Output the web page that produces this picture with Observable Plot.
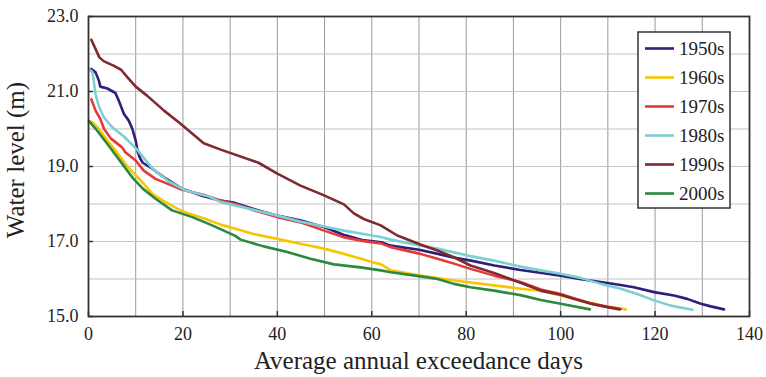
<!DOCTYPE html>
<html><head><meta charset="utf-8">
<script src="https://cdn.jsdelivr.net/npm/d3@7"></script>
<script src="https://cdn.jsdelivr.net/npm/@observablehq/plot@0.6"></script>
<style>
body{margin:0;background:#fff;}
#chart{position:relative;width:766px;height:377px;}
#chart svg, #chart svg text{font-family:"Liberation Serif","Times New Roman","DejaVu Serif",serif !important;}
</style>
</head><body><div id="chart"></div>
<script>
const decades = ["1950s","1960s","1970s","1980s","1990s","2000s"];
const colors = ["#2e1f7c","#f7c600","#e43a3a","#7ccfd2","#7f2a2e","#2b8a3e"];

const days1950 = [0.6,1.5,2.2,2.5,4,5.7,6.5,7.5,8.5,9.3,10,10.4,11,11.5,13.5,16,17,19.8,24,28,31,35,40,45,50,54,58,62,64,70,74,77,81,86,91.5,96,100,104,108.5,112.7,115.5,119.8,124,126.8,129.7,131.8,134.6];
const level1950 = [21.6,21.51,21.29,21.13,21.08,20.96,20.73,20.4,20.23,20.0,19.69,19.4,19.2,19.1,18.94,18.71,18.63,18.41,18.22,18.09,18.03,17.87,17.69,17.56,17.38,17.18,17.04,16.98,16.89,16.78,16.67,16.58,16.49,16.36,16.24,16.16,16.09,16.0,15.92,15.84,15.78,15.65,15.56,15.47,15.34,15.27,15.19];

const days1960 = [0.1,0.8,2.2,4,5.7,7.8,10,11.7,13.5,16.3,19.8,24.8,28,31.1,35,40,44.9,49.9,54.1,58.3,60,62,64,70.3,77.4,85.9,91.5,95.8,100,104.2,108.5,113.8];
const level1960 = [20.21,20.18,20.0,19.69,19.43,19.07,18.76,18.54,18.27,18.05,17.81,17.6,17.45,17.34,17.2,17.07,16.94,16.81,16.67,16.52,16.45,16.39,16.23,16.09,15.96,15.83,15.74,15.68,15.56,15.43,15.29,15.19];

const days1970 = [0.6,1.5,2.5,3.3,4.7,7.1,7.8,10,11.7,14.2,17.7,19.8,24.8,28,31.1,35,40,44.9,49.9,54.1,58.3,61.9,64,70.3,73.9,77.4,80.9,85.9,91.5,95.8,100,102.8,106.4,109.9,112.7];
const level1970 = [20.79,20.49,20.27,20.0,19.75,19.51,19.38,19.16,18.89,18.67,18.49,18.38,18.23,18.09,18.0,17.83,17.65,17.51,17.29,17.11,17.01,16.95,16.85,16.67,16.54,16.41,16.27,16.09,15.92,15.72,15.6,15.49,15.35,15.26,15.2];

const days1980 = [0.1,0.8,1.1,1.5,2.2,3.3,5,7.5,10.3,13.5,17,20.6,25.5,28,32.2,40,44.9,49.9,54.1,58.3,61.9,64,70.3,73.9,77.4,80.9,85.9,91.5,95.8,100,104.2,108.5,112.7,116.2,119.8,123.3,127.9];
const level1980 = [21.6,21.52,21.3,20.92,20.6,20.3,20.05,19.8,19.45,18.95,18.6,18.36,18.2,18.05,17.93,17.69,17.53,17.4,17.29,17.2,17.12,17.05,16.89,16.81,16.71,16.61,16.49,16.33,16.23,16.14,16.03,15.87,15.74,15.6,15.43,15.29,15.18];

const days1990 = [0.6,2.3,3.2,5.3,6.9,8.3,10,12.4,16,19.5,24.4,28,36,40,44.9,49.9,54.1,56.2,58.3,61.9,65.4,70.3,73.9,77.4,80.9,85.9,91.5,95.8,100,102.8,106.4,109.9,112.5];
const level1990 = [22.38,21.91,21.81,21.69,21.58,21.37,21.13,20.89,20.49,20.14,19.62,19.45,19.1,18.81,18.49,18.23,17.99,17.75,17.6,17.43,17.16,16.92,16.76,16.58,16.36,16.16,15.9,15.69,15.58,15.47,15.34,15.25,15.19];

const days2000 = [0.1,1.8,4,6.8,9.4,11.5,14.2,17.7,22,26.2,31.1,32.2,37.1,42.1,47,52,57.6,61.9,64,70.3,73.9,77.4,80.9,85.9,91.5,95.8,100,106.2];
const level2000 = [20.21,19.96,19.6,19.13,18.69,18.41,18.14,17.83,17.65,17.43,17.15,17.05,16.87,16.72,16.54,16.39,16.31,16.23,16.18,16.07,16.0,15.87,15.78,15.69,15.57,15.44,15.34,15.19];

const xTicks = [0,20,40,60,80,100,120,140];
const yTicks = [15,17,19,21,23];
const xGrid = [0,10,20,30,40,50,60,70,80,90,100,110,120,130,140];
const yGrid = [15,16,17,18,19,20,21,22,23];

const seriesDays = [days1950,days1960,days1970,days1980,days1990,days2000];
const seriesLevels = [level1950,level1960,level1970,level1980,level1990,level2000];
const rows = [];
decades.forEach((dec,i)=>{
  seriesDays[i].forEach((d,j)=>rows.push({decade:dec, days:d, level:seriesLevels[i][j]}));
});

const font = "Liberation Serif, Times New Roman, serif";
const chart = Plot.plot({
  width:766, height:377,
  marginLeft:88, marginRight:17, marginTop:16, marginBottom:61,
  style:{fontFamily:font, fontSize:"18px", background:"#fff", color:"#222"},
  x:{domain:[0,140]},
  y:{domain:[15,23]},
  color:{domain:decades, range:colors},
  marks:[
    Plot.gridX(xGrid, {stroke:"#9a9a9a", strokeOpacity:1, strokeWidth:1}),
    Plot.gridY(yGrid, {stroke:"#c4c4c4", strokeOpacity:1, strokeWidth:1.2}),
    Plot.line(rows, {x:"days", y:"level", z:"decade", stroke:"decade", strokeWidth:2.6, strokeLinejoin:"round"}),
    Plot.frame({stroke:"#333", strokeWidth:1.8}),
    Plot.axisX(xTicks, {tickSize:0, tickPadding:10.5, tickFormat:"d", label:null, fill:"#222"}),
    Plot.axisX(xTicks, {tickSize:-5, tickFormat:()=>"", label:null, stroke:"#333", strokeWidth:1.5}),
    Plot.axisY(yTicks, {tickSize:0, tickPadding:10, tickFormat:d=>d.toFixed(1), label:null, fill:"#222"}),
    Plot.axisY(yTicks, {tickSize:-5, tickFormat:()=>"", label:null, stroke:"#333", strokeWidth:1.5})
  ]
});
document.getElementById("chart").appendChild(chart);

const svg = d3.select(chart);
svg.append("text").attr("x",418.5).attr("y",369).attr("text-anchor","middle")
  .attr("font-size",25).attr("fill","#222")
  .text("Average annual exceedance days");
svg.append("text").attr("transform","translate(24,160) rotate(-90)").attr("text-anchor","middle")
  .attr("font-size",25).attr("fill","#222")
  .text("Water level (m)");

const lg = svg.append("g");
lg.append("rect").attr("x",638).attr("y",32).attr("width",92).attr("height",176)
  .attr("fill","#fff").attr("stroke","#333").attr("stroke-width",1.5);
decades.forEach((dec,i)=>{
  const cy = 48.5 + i*29;
  lg.append("line").attr("x1",645).attr("x2",674).attr("y1",cy).attr("y2",cy)
    .attr("stroke",colors[i]).attr("stroke-width",2.6);
  lg.append("text").attr("x",679).attr("y",cy).attr("dy","0.35em").attr("text-anchor","start")
    .attr("font-size",19).attr("fill","#222").text(dec);
});
</script>
</body></html>
